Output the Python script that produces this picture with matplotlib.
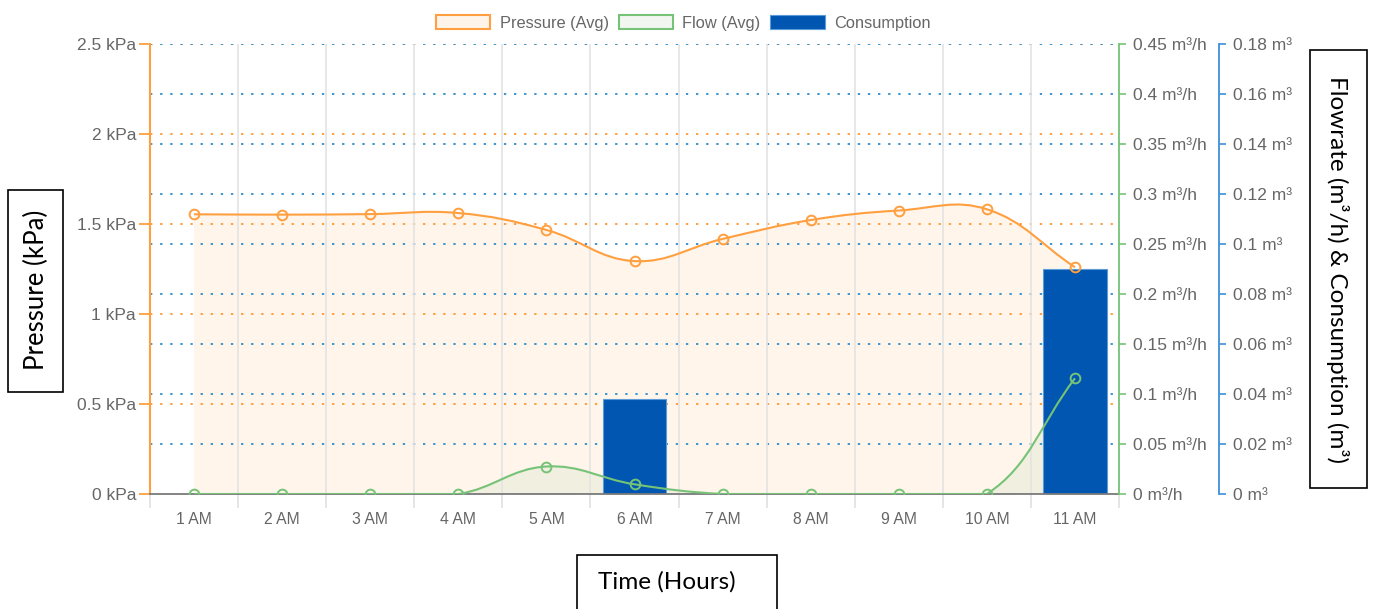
import numpy as np
import matplotlib
matplotlib.use('Agg')
import matplotlib.pyplot as plt
from matplotlib.path import Path
from matplotlib.patches import PathPatch, Patch, Rectangle
from matplotlib.transforms import blended_transform_factory

hours = ['1 AM', '2 AM', '3 AM', '4 AM', '5 AM', '6 AM', '7 AM', '8 AM', '9 AM', '10 AM', '11 AM']
pressure = [1.554, 1.552, 1.555, 1.561, 1.467, 1.294, 1.417, 1.522, 1.575, 1.582, 1.26]  # kPa
flow = [0, 0, 0, 0, 0.0275, 0.0097, 0, 0, 0, 0, 0.1157]  # m3/h
consumption = [0, 0, 0, 0, 0, 0.038, 0, 0, 0, 0, 0.09]  # m3

pressure_ticks = [0, 0.5, 1, 1.5, 2, 2.5]
flow_ticks = [0, 0.05, 0.1, 0.15, 0.2, 0.25, 0.3, 0.35, 0.4, 0.45]
cons_ticks = [0, 0.02, 0.04, 0.06, 0.08, 0.1, 0.12, 0.14, 0.16, 0.18]

ORANGE = '#ff9f40'
GREEN = '#76c378'
BLUE_AX = '#3d8fd9'
BAR = '#0056b0'
GRID_BLUE = '#3d95d0'
TXT = '#666666'

plt.rcParams['font.family'] = ['Liberation Sans', 'DejaVu Sans']


def spline(ax_t, xs, ys, tension=0.4):
    # chart.js style cubic spline, control points computed in pixel space
    tr = ax_t.transData
    P = tr.transform(np.column_stack([xs, ys]))
    n = len(P)
    bb = ax_t.bbox
    cprev, cnext = [], []
    for i in range(n):
        prev = P[max(i - 1, 0)]
        cur = P[i]
        nxt = P[min(i + 1, n - 1)]
        d01 = np.hypot(*(cur - prev))
        d12 = np.hypot(*(nxt - cur))
        tot = d01 + d12
        s01 = d01 / tot if tot else 0
        s12 = d12 / tot if tot else 0
        a = cur - tension * s01 * (nxt - prev)
        b = cur + tension * s12 * (nxt - prev)
        for c in (a, b):
            c[0] = min(max(c[0], bb.x0), bb.x1)
            c[1] = min(max(c[1], bb.y0), bb.y1)
        cprev.append(a)
        cnext.append(b)
    verts = [P[0]]
    codes = [Path.MOVETO]
    for i in range(n - 1):
        verts += [cnext[i], cprev[i + 1], P[i + 1]]
        codes += [Path.CURVE4] * 3
    verts = tr.inverted().transform(np.array(verts))
    return list(map(tuple, verts)), codes


fig = plt.figure(figsize=(13.75, 6.09), dpi=100)
ax = fig.add_axes([150 / 1375, 1 - 494 / 609, 969 / 1375, 450 / 609])
axf = ax.twinx()
axc = ax.twinx()

x = np.arange(len(hours))
ax.set_xlim(-0.5, len(hours) - 0.5)
ax.set_ylim(0, 2.5)
axf.set_ylim(0, 0.45)
axc.set_ylim(0, 0.18)

# pressure fill (bottom layer)
v, c = spline(ax, x, pressure)
fill_v = v + [(x[-1], 0), (x[0], 0), v[0]]
fill_c = c + [Path.LINETO, Path.LINETO, Path.CLOSEPOLY]
ax.add_patch(PathPatch(Path(fill_v, fill_c), facecolor=ORANGE, alpha=0.1, edgecolor='none', zorder=0.5))

# horizontal grid
for p in pressure_ticks[1:]:
    ax.axhline(p, color=ORANGE, lw=1.4, ls=(0, (1.2, 4)), zorder=1)
tb = blended_transform_factory(ax.transAxes, axc.transData)
for t in cons_ticks[1:]:
    ax.plot([0, 1], [t, t], transform=tb, color=GRID_BLUE, lw=1.4, ls=(0, (1.2, 4)), zorder=1.1)

# flow fill (under the bars)
fv, fc = spline(axf, x, flow)
ffill_v = fv + [(x[-1], 0), (x[0], 0), fv[0]]
ffill_c = fc + [Path.LINETO, Path.LINETO, Path.CLOSEPOLY]
ftr = blended_transform_factory(ax.transData, axf.transData)
ax.add_patch(PathPatch(Path(ffill_v, ffill_c), facecolor=GREEN, alpha=0.1, edgecolor='none',
                       transform=ftr, zorder=1.5))

# consumption bars
ax.bar(x, consumption, width=0.72, color=BAR, edgecolor='#5b9bd8', lw=0.8,
       transform=blended_transform_factory(ax.transData, axc.transData), zorder=2)

# flow line
ax.add_patch(PathPatch(Path(fv, fc), facecolor='none', edgecolor=GREEN, lw=1.5, transform=ftr, zorder=3))
ax.plot(x, flow, 'o', ms=7, mfc='none', mec=GREEN, mew=1.4, transform=ftr, zorder=3.1)

# pressure line
ax.add_patch(PathPatch(Path(v, c), facecolor='none', edgecolor=ORANGE, lw=1.5, zorder=3.2))
ax.plot(x, pressure, 'o', ms=7, mfc='none', mec=ORANGE, mew=1.4, zorder=3.3)

# x axis
ax.set_xticks(x)
ax.set_xticklabels(hours)
ax.set_xticks(np.arange(-0.5, len(hours), 1), minor=True)
ax.grid(which='minor', axis='x', color='#e3e3e3', lw=1.2, zorder=0.6)
ax.tick_params(axis='x', which='major', length=0, pad=13, labelsize=11.3, labelcolor=TXT)
ax.tick_params(axis='x', which='minor', length=10, color='#e0e0e0', width=1.2)
ax.spines['bottom'].set_color('#7a7a7a')
ax.spines['bottom'].set_linewidth(1.3)
ax.spines['top'].set_visible(False)
ax.spines['right'].set_visible(False)

# left pressure axis
ax.spines['left'].set_color(ORANGE)
ax.spines['left'].set_linewidth(1.5)
ax.set_yticks(pressure_ticks)
ax.set_yticklabels([f'{p:g} kPa' for p in pressure_ticks])
ax.tick_params(axis='y', length=8, width=1.3, color=ORANGE, pad=2, labelsize=12.5, labelcolor=TXT)

# flow axis
for a in (axf, axc):
    a.spines['left'].set_visible(False)
    a.spines['top'].set_visible(False)
    a.spines['bottom'].set_visible(False)
axf.spines['right'].set_color(GREEN)
axf.spines['right'].set_linewidth(1.3)
axf.set_yticks(flow_ticks)
axf.set_yticklabels([f'{t:g} m³/h' for t in flow_ticks])
axf.tick_params(axis='y', length=5, width=1.2, color=GREEN, pad=5, labelsize=12.5, labelcolor=TXT)

# consumption axis, 100 px right of the flow axis
axc.spines['right'].set_position(('outward', 72))
axc.spines['right'].set_color(BLUE_AX)
axc.spines['right'].set_linewidth(1.3)
axc.set_yticks(cons_ticks)
axc.set_yticklabels([f'{t:g} m³' for t in cons_ticks])
axc.tick_params(axis='y', length=5, width=1.2, color=BLUE_AX, pad=5, labelsize=12.5, labelcolor=TXT)

# legend
handles = [Patch(facecolor='#fff4ea', edgecolor=ORANGE, lw=1.5),
           Patch(facecolor='#f1f7f0', edgecolor=GREEN, lw=1.5),
           Patch(facecolor=BAR, edgecolor='#5b9bd8', lw=0.8)]
leg = fig.legend(handles, ['Pressure (Avg)', 'Flow (Avg)', 'Consumption'], loc='upper center',
                 bbox_to_anchor=(0.497, 1.0), ncol=3, frameon=False, fontsize=11.8,
                 handlelength=3.3, handleheight=1.0, columnspacing=0.6, handletextpad=0.6)
for t in leg.get_texts():
    t.set_color(TXT)

# boxed axis titles
W, H = 1375, 609
box_font = ['Lato', 'DejaVu Sans']
fig.add_artist(Rectangle((8 / W, 1 - 392 / H), 55 / W, 202 / H, transform=fig.transFigure,
                         fill=False, ec='black', lw=1.2))
fig.text(36 / W, 1 - 290 / H, 'Pressure (kPa)', rotation=90, ha='center', va='center',
         fontsize=18.5, family=box_font)
fig.add_artist(Rectangle((577 / W, 1 - 612 / H), 200 / W, 57 / H, transform=fig.transFigure,
                         fill=False, ec='black', lw=1.2))
fig.text(667 / W, 1 - 582 / H, 'Time (Hours)', ha='center', va='center', fontsize=17.5, family=box_font)
fig.add_artist(Rectangle((1310 / W, 1 - 488 / H), 57 / W, 438 / H, transform=fig.transFigure,
                         fill=False, ec='black', lw=1.2))
fig.text(1338 / W, 1 - 270 / H, 'Flowrate (m³/h) & Consumption (m³)', rotation=-90, ha='center',
         va='center', fontsize=17.5, family=box_font)

fig.savefig('out.png', dpi=100)
